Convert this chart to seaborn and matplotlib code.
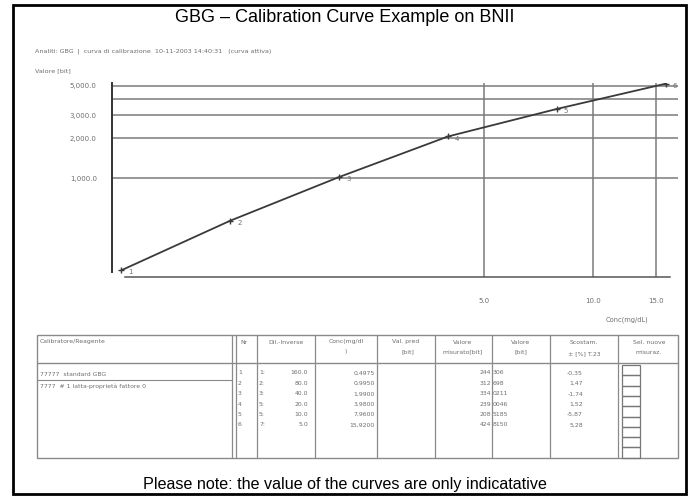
import numpy as np
import pandas as pd
import matplotlib
matplotlib.use("Agg")
import matplotlib.pyplot as plt
import seaborn as sns
from matplotlib import ticker, font_manager
from matplotlib.patches import Rectangle

# ---------------- data ----------------
point_no = [1, 2, 3, 4, 5, 6]
conc = [0.4975, 0.995, 1.99, 3.98, 7.96, 15.92]          # mg/dL
signal = [200, 475, 1018, 2066, 3340, 5190]               # bit
x_ticks = [5.0, 10.0, 15.0]
x_ticklabels = ["5.0", "10.0", "15.0"]
y_ticks = [1000, 2000, 3000, 4000, 5000]
y_ticklabels = ["1,000.0", "2,000.0", "3,000.0", "", "5,000.0"]

tbl_nr = ["1", "2", "3", "4", "5", "6"]
tbl_nr2 = ["1:", "2:", "3:", "5:", "5:", "7:"]
tbl_dil = ["160.0", "80.0", "40.0", "20.0", "10.0", "5.0"]
tbl_conc = ["0,4975", "0,9950", "1,9900", "3,9800", "7,9600", "15,9200"]
tbl_meas_a = ["244", "312", "334", "239", "208", "424"]
tbl_meas_b = ["306", "698", "0211", "0046", "5185", "8150"]
tbl_dev = ["-0,35", "1,47", "-1,74", "1,52", "-5,87", "5,28"]

title = "GBG \u2013 Calibration Curve Example on BNII"
footer = "Please note: the value of the curves are only indicatative"
header = "Analiti: GBG  |  curva di calibrazione  10-11-2003 14:40:31   (curva attiva)"

# ---------------- style ----------------
sns.set_style("white")
names = {f.name for f in font_manager.fontManager.ttflist}
narrow = "Liberation Sans Narrow" if "Liberation Sans Narrow" in names else "Liberation Sans"
plt.rcParams["font.family"] = ["DejaVu Sans"]
GRAY = "#6e6e6e"

W, H = 690, 496
fig = plt.figure(figsize=(W / 100, H / 100), dpi=100)

# overlay for frame, texts, table (pixel coordinates)
ov = fig.add_axes([0, 0, 1, 1])
ov.set_xlim(0, W)
ov.set_ylim(H, 0)
ov.axis("off")
ov.set_zorder(0)

# main chart axes
left, right, top, bottom = 112, 678, 83, 277
ax = fig.add_axes([left / W, 1 - bottom / H, (right - left) / W, (bottom - top) / H])
ax.set_zorder(1)
ax.patch.set_alpha(0)

df = pd.DataFrame({"conc": conc, "signal": signal, "nr": point_no})
sns.lineplot(data=df, x="conc", y="signal", ax=ax, color="#3a3a3a", lw=1.3,
             marker="+", markersize=5, markeredgewidth=1.0, markeredgecolor="#3a3a3a",
             sort=False)
for n, c, s in zip(point_no, conc, signal):
    ax.annotate(str(n), (c, s), xytext=(5, -3), textcoords="offset points",
                fontsize=5, color=GRAY)

ax.set_xscale("log")
ax.set_yscale("log")
ax.set_xlim(0.469, 17.2)
ax.set_ylim(178, 5250)

ax.xaxis.set_major_locator(ticker.FixedLocator(x_ticks))
ax.xaxis.set_major_formatter(ticker.FixedFormatter(x_ticklabels))
ax.xaxis.set_minor_locator(ticker.LogLocator(base=10, subs=np.arange(1, 10)))
ax.xaxis.set_minor_formatter(ticker.NullFormatter())
ax.yaxis.set_major_locator(ticker.FixedLocator(y_ticks))
ax.yaxis.set_major_formatter(ticker.FixedFormatter(y_ticklabels))
ax.yaxis.set_minor_locator(ticker.LogLocator(base=10, subs=np.arange(1, 10)))
ax.yaxis.set_minor_formatter(ticker.NullFormatter())

ax.grid(True, which="major", color="#7a7a7a", lw=1.1)
ax.tick_params(axis="both", which="both", direction="inout", colors="#555",
               labelcolor=GRAY, labelsize=5)
ax.tick_params(axis="both", which="major", length=4, width=0.8)
ax.tick_params(axis="both", which="minor", length=3, width=0.7)
ax.tick_params(axis="x", which="major", pad=13)
ax.tick_params(axis="y", which="major", pad=9)
ax.set_xlabel("")
ax.set_ylabel("")
for sp in ["top", "right"]:
    ax.spines[sp].set_visible(False)
ax.spines["left"].set_color("#333")
ax.spines["left"].set_linewidth(1.4)
ax.spines["left"].set_bounds(194, 5250)
ax.spines["bottom"].set_color("#555")
ax.spines["bottom"].set_linewidth(1.1)
ax.spines["bottom"].set_bounds(0.509, 16.3)

# ---------------- frame & texts ----------------
ov.add_patch(Rectangle((13, 5), 673, 489, fill=False, ec="black", lw=2))
ov.text(345, 17, title, ha="center", va="center", fontsize=13, family=narrow, color="black")
ov.text(345, 485, footer, ha="center", va="center", fontsize=11.6, family=narrow, color="black")
ov.text(35, 51, header, ha="left", va="center", fontsize=4.6, color=GRAY)
ov.text(35, 71, "Valore [bit]", ha="left", va="center", fontsize=4.6, color=GRAY)
ov.text(627, 320, "Conc(mg/dL)", ha="center", va="center", fontsize=4.8, color=GRAY)

# ---------------- table ----------------
TL, TR, TT, TB = 37, 678, 335, 458
HB = 363
LC = "#8a8a8a"
ov.add_patch(Rectangle((TL, TT), TR - TL, TB - TT, fill=False, ec=LC, lw=1.0))
ov.plot([TL, TR], [HB, HB], color=LC, lw=1.0)
ov.plot([TL, 232], [380, 380], color=LC, lw=0.8)
for xc in [232, 236, 257, 315, 377, 435, 492, 550, 618]:
    ov.plot([xc, xc], [TT, TB], color=LC, lw=0.9)
for i in range(9):
    ov.add_patch(Rectangle((622, 365 + i * 10.3), 18, 10.3, fill=False, ec="#777", lw=0.9))

fs = 4.4
ov.text(40, 342, "Calibratore/Reagente", fontsize=fs, color=GRAY, va="center")
ov.text(240, 342, "Nr", fontsize=fs, color=GRAY, va="center")
ov.text(286, 342, "Dil.-Inverse", fontsize=fs, color=GRAY, va="center", ha="center")
ov.text(346, 342, "Conc(mg/dl", fontsize=fs, color=GRAY, va="center", ha="center")
ov.text(346, 352, ")", fontsize=fs, color=GRAY, va="center", ha="center")
ov.text(406, 342, "Val. pred", fontsize=fs, color=GRAY, va="center", ha="center")
ov.text(408, 352, "[bit]", fontsize=fs, color=GRAY, va="center", ha="center")
ov.text(463, 342, "Valore", fontsize=fs, color=GRAY, va="center", ha="center")
ov.text(463, 352, "misurato[bit]", fontsize=fs, color=GRAY, va="center", ha="center")
ov.text(521, 342, "Valore", fontsize=fs, color=GRAY, va="center", ha="center")
ov.text(521, 352, "[bit]", fontsize=fs, color=GRAY, va="center", ha="center")
ov.text(584, 342, "Scostam.", fontsize=fs, color=GRAY, va="center", ha="center")
ov.text(584, 354, "\u00b1 [%] T.23", fontsize=fs, color=GRAY, va="center", ha="center")
ov.text(649, 342, "Sel. nuove", fontsize=fs, color=GRAY, va="center", ha="center")
ov.text(649, 352, "misuraz.", fontsize=fs, color=GRAY, va="center", ha="center")

ov.text(40, 374, "77777  standard GBG", fontsize=fs, color=GRAY, va="center")
ov.text(40, 386, "7777  # 1 latta-propriet\u00e0 fattore 0", fontsize=fs, color=GRAY, va="center")

for i in range(6):
    yy = 373 + 10.4 * i
    ov.text(238, yy, tbl_nr[i], fontsize=fs, color=GRAY, va="center")
    ov.text(259, yy, tbl_nr2[i], fontsize=fs, color=GRAY, va="center")
    ov.text(308, yy, tbl_dil[i], fontsize=fs, color=GRAY, va="center", ha="right")
    ov.text(375, yy, tbl_conc[i], fontsize=fs, color=GRAY, va="center", ha="right")
    ov.text(491, yy, tbl_meas_a[i], fontsize=fs, color=GRAY, va="center", ha="right")
    ov.text(493, yy, tbl_meas_b[i], fontsize=fs, color=GRAY, va="center", ha="left")
    ov.text(583, yy, tbl_dev[i], fontsize=fs, color=GRAY, va="center", ha="right")

fig.savefig("out.png", dpi=100)
